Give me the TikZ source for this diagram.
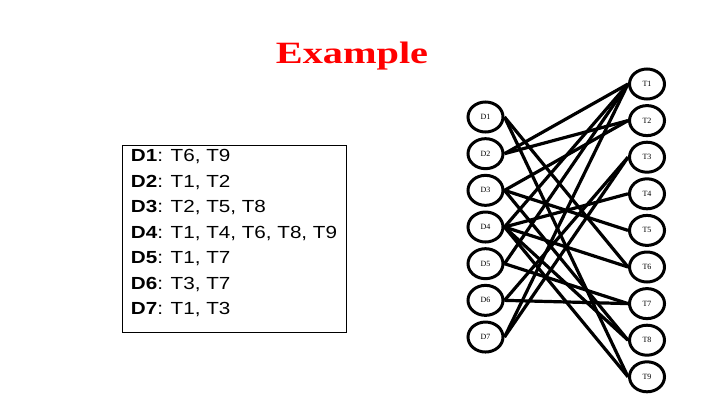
\documentclass[tikz,border=0pt]{standalone}
\usepackage{fontspec}
\setmainfont{Liberation Serif}
\newfontfamily\listfont[FakeStretch=1.18]{Liberation Sans}
\newfontfamily\titlefont[FakeStretch=1.3]{Liberation Serif}
\usetikzlibrary{shapes.geometric}

\begin{document}
\begin{tikzpicture}[x=1pt,y=-1pt,
    vert/.style={draw,ellipse,line width=3pt,minimum width=35pt,minimum height=30pt,inner sep=0pt,font=\fontsize{8}{9}\selectfont},
    edge/.style={line width=3.2pt}]
    \useasboundingbox (0,0) rectangle (720,405);
    \node[text=red,font=\titlefont\bfseries\fontsize{31}{32}\selectfont] (title) at (352,56) {Example};

    % list of documents and their terms
    \node[draw,line width=1.2pt,minimum width=224pt,minimum height=187pt,anchor=north west] (box) at (121.5,145) {};
    \node[anchor=north west,align=left,inner sep=0pt,font=\listfont\fontsize{17.5}{25.5}\selectfont] (list) at (130.7,149.5) {%
        \textbf{D1}: T6, T9\\
        \textbf{D2}: T1, T2\\
        \textbf{D3}: T2, T5, T8\\
        \textbf{D4}: T1, T4, T6, T8, T9\\
        \textbf{D5}: T1, T7\\
        \textbf{D6}: T3, T7\\
        \textbf{D7}: T1, T3};

    % documents on the left, terms on the right
    \foreach \i in {1,...,7}{
        \node[vert] (d\i) at (485.5,{117+(\i-1)*36.67}) {D\i};
    }
    \foreach \i in {1,...,9}{
        \node[vert] (t\i) at (647,{84+(\i-1)*36.6}) {T\i};
    }

    \foreach \d/\t in {1/6,1/9,2/1,2/2,3/2,3/5,3/8,4/1,4/4,4/6,4/8,4/9,5/1,5/7,6/3,6/7,7/1,7/3}{
        \draw[edge] (d\d.east) -- (t\t.west);
    }
\end{tikzpicture}
\end{document}
